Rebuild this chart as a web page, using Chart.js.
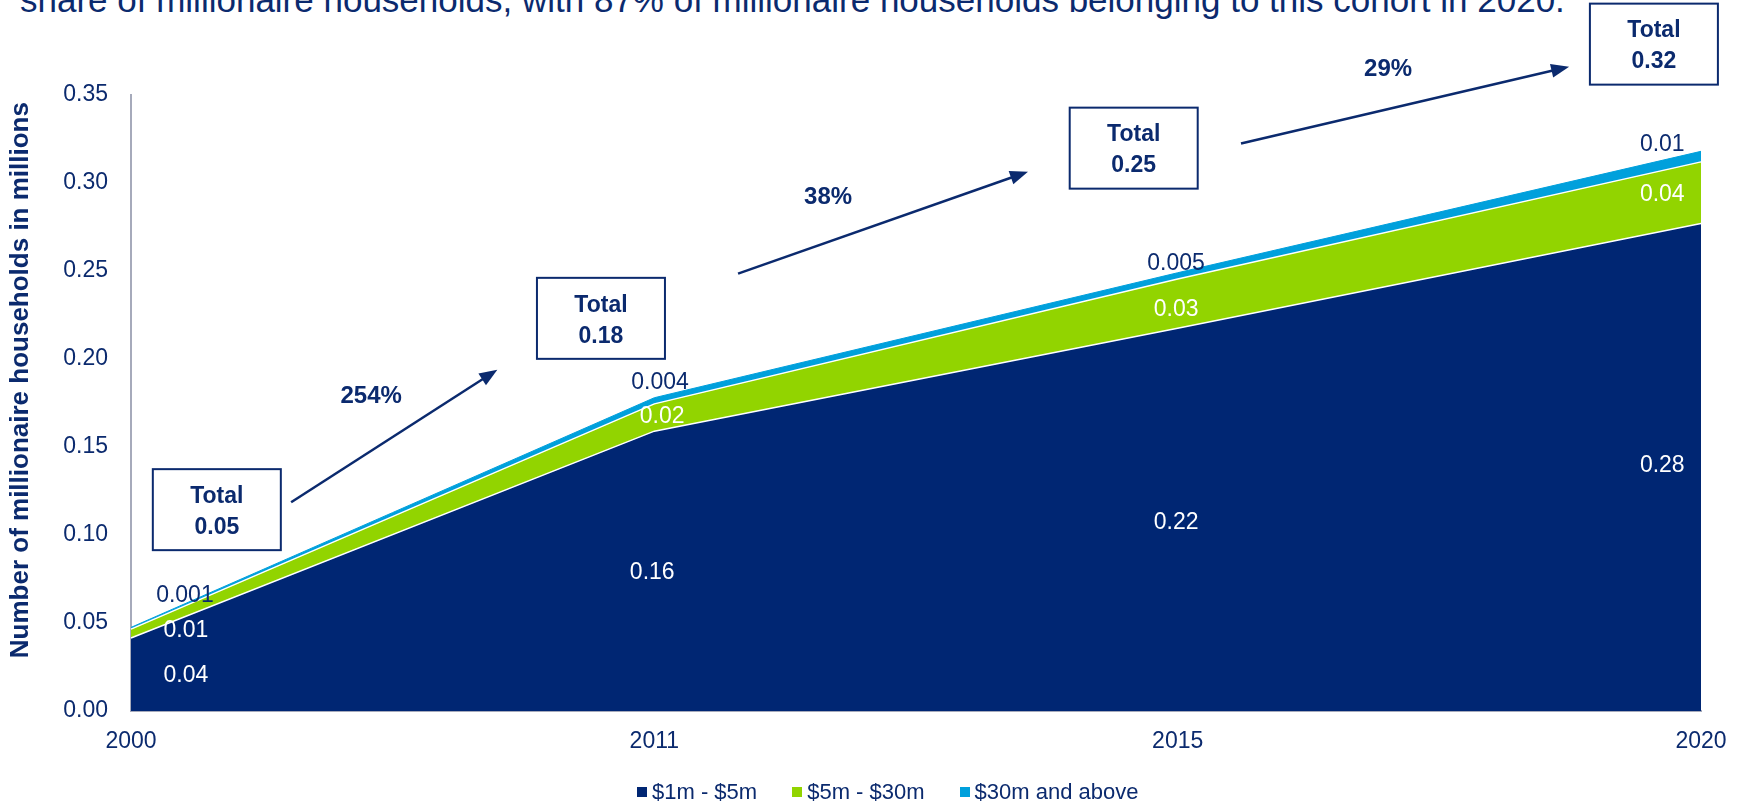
<!DOCTYPE html>
<html lang="en">
<head>
<meta charset="UTF-8">
<title>Millionaire households</title>
<script src="https://cdn.jsdelivr.net/npm/chart.js"></script>
<style>
  body { margin: 0; background: #fff; }
  #wrap { position: relative; width: 1740px; height: 803px; overflow: hidden; font-family: "Liberation Sans", Arial, sans-serif; }
  #headline { position: absolute; left: 20px; top: -18px; font-size: 35px; line-height: 35px; color: #0b2a6e; white-space: nowrap; }
  #chart { position: absolute; left: 0; top: 0; }
  .legend { position: absolute; left: 637px; top: 780px; display: flex; align-items: center; font-size: 22px; line-height: 24px; color: #0b2a6e; }
  .legend .item { display: flex; align-items: center; margin-right: 35px; }
  .legend .box { width: 10px; height: 10px; margin-right: 5px; }
</style>
</head>
<body>

<div id="wrap">
  <div id="headline">share of millionaire households, with 87% of millionaire households belonging to this cohort in 2020.</div>
  <canvas id="chart" width="1740" height="803"></canvas>
  <div class="legend" id="legend"></div>
</div>

<script>
// data
const years = ['2000', '2011', '2015', '2020'];
const band1to5 = [0.0415, 0.159, 0.2175, 0.277];
const band5to30 = [0.005, 0.0155, 0.028, 0.035];
const band30plus = [0.001, 0.0035, 0.0035, 0.006];
const seriesNames = ['$1m - $5m', '$5m - $30m', '$30m and above'];

// labels as printed on the chart
const bandLabels = [
    ['0.04', '0.16', '0.22', '0.28'],
    ['0.01', '0.02', '0.03', '0.04'],
    ['0.001', '0.004', '0.005', '0.01']
];
const totals = ['0.05', '0.18', '0.25', '0.32'];
const growth = ['254%', '38%', '29%'];
const yTitle = 'Number of millionaire households in millions';

const yMax = 0.35;
const yStep = 0.05;

// where the annotations sit, in (category index, value) units
const labelPos = [
    [[0.105, 0.0201], [0.996, 0.0786], [1.997, 0.1070], [2.926, 0.1394]],
    [[0.105, 0.0456], [1.015, 0.1672], [1.997, 0.2280], [2.926, 0.2934]],
    [[0.103, 0.0655], [1.011, 0.1865], [1.997, 0.2542], [2.926, 0.3218]]
];
const totalPos = [[0.164, 0.1144], [0.898, 0.2231], [1.916, 0.3198], [2.910, 0.3789]];
const arrowPos = [
    [[0.306, 0.1186], [0.700, 0.1939]],
    [[1.160, 0.2485], [1.714, 0.3064]],
    [[2.121, 0.3224], [2.748, 0.3661]]
];
const growthPos = [[0.459, 0.1786], [1.332, 0.2917], [2.402, 0.3644]];

const navy = '#002673';
const green = '#92d400';
const blue = '#00a0dc';
const ink = '#0b2a6e';
const font = '"Liberation Sans", Arial, sans-serif';

// legend
const legend = document.getElementById('legend');
[navy, green, blue].forEach(function (c, i) {
    legend.innerHTML += '<div class="item"><span class="box" style="background:' + c + '"></span>' + seriesNames[i] + '</div>';
});

const annotations = {
    id: 'annotations',
    afterDatasetsDraw(chart) {
        const ctx = chart.ctx;
        const xs = chart.scales.x;
        const ys = chart.scales.y;
        const px = p => [xs.getPixelForValue(p[0]), ys.getPixelForValue(p[1])];
        ctx.save();
        ctx.textAlign = 'center';
        ctx.textBaseline = 'middle';

        // y axis title, a bit above the middle as in the slide
        ctx.save();
        ctx.translate(21, ys.getPixelForValue(0.188));
        ctx.rotate(-Math.PI / 2);
        ctx.fillStyle = ink;
        ctx.font = 'bold 26px ' + font;
        ctx.fillText(yTitle, 0, 0);
        ctx.restore();

        // values on the areas
        ctx.font = '23px ' + font;
        labelPos.forEach(function (row, s) {
            row.forEach(function (p, i) {
                const q = px(p);
                ctx.fillStyle = s == 2 ? ink : '#ffffff';
                ctx.fillText(bandLabels[s][i], q[0], q[1]);
            });
        });

        // growth arrows
        ctx.strokeStyle = ink;
        ctx.fillStyle = ink;
        ctx.lineWidth = 2.5;
        arrowPos.forEach(function (a) {
            const p0 = px(a[0]);
            const p1 = px(a[1]);
            const ang = Math.atan2(p1[1] - p0[1], p1[0] - p0[0]);
            const len = 18, hw = 7;
            ctx.beginPath();
            ctx.moveTo(p0[0], p0[1]);
            ctx.lineTo(p1[0] - Math.cos(ang) * len * 0.8, p1[1] - Math.sin(ang) * len * 0.8);
            ctx.stroke();
            ctx.beginPath();
            ctx.moveTo(p1[0], p1[1]);
            ctx.lineTo(p1[0] - len * Math.cos(ang) + hw * Math.sin(ang), p1[1] - len * Math.sin(ang) - hw * Math.cos(ang));
            ctx.lineTo(p1[0] - len * Math.cos(ang) - hw * Math.sin(ang), p1[1] - len * Math.sin(ang) + hw * Math.cos(ang));
            ctx.closePath();
            ctx.fill();
        });

        ctx.font = 'bold 24px ' + font;
        growthPos.forEach(function (p, i) {
            const q = px(p);
            ctx.fillText(growth[i], q[0], q[1]);
        });

        // total boxes
        const w = 128, h = 81;
        totalPos.forEach(function (p, i) {
            const q = px(p);
            ctx.fillStyle = '#ffffff';
            ctx.fillRect(q[0] - w / 2, q[1] - h / 2, w, h);
            ctx.lineWidth = 2;
            ctx.strokeStyle = ink;
            ctx.strokeRect(q[0] - w / 2, q[1] - h / 2, w, h);
            ctx.fillStyle = ink;
            ctx.font = 'bold 23px ' + font;
            ctx.fillText('Total', q[0], q[1] - 13);
            ctx.fillText(totals[i], q[0], q[1] + 18);
        });
        ctx.restore();
    }
};

new Chart(document.getElementById('chart'), {
    type: 'line',
    data: {
        labels: years,
        datasets: [
            { label: seriesNames[0], data: band1to5, backgroundColor: navy, borderColor: '#ffffff', borderWidth: 1.5, fill: 'origin' },
            { label: seriesNames[1], data: band5to30, backgroundColor: green, borderColor: '#ffffff', borderWidth: 1.5, fill: '-1' },
            { label: seriesNames[2], data: band30plus, backgroundColor: blue, borderColor: blue, borderWidth: 1, fill: '-1' }
        ]
    },
    options: {
        responsive: false,
        animation: false,
        devicePixelRatio: 1,
        layout: { padding: { top: 95, right: 39, left: 0, bottom: 0 } },
        elements: { point: { radius: 0 }, line: { tension: 0 } },
        plugins: {
            legend: { display: false },
            tooltip: { enabled: false }
        },
        scales: {
            x: {
                offset: false,
                grid: { display: false },
                border: { display: true, color: '#a6aabb', width: 2 },
                ticks: { color: ink, font: { family: font, size: 23 }, padding: 9, maxRotation: 0 },
                afterFit: function (scale) { scale.height = 92; }
            },
            y: {
                stacked: true,
                min: 0,
                max: yMax,
                grid: { display: false },
                border: { display: true, color: '#a6aabb', width: 2 },
                ticks: {
                    stepSize: yStep,
                    color: ink,
                    padding: 15,
                    font: { family: font, size: 23 },
                    callback: v => v.toFixed(2)
                },
                afterFit: function (scale) { scale.width = 131; }
            }
        }
    },
    plugins: [annotations]
});
</script>
</body>
</html>
